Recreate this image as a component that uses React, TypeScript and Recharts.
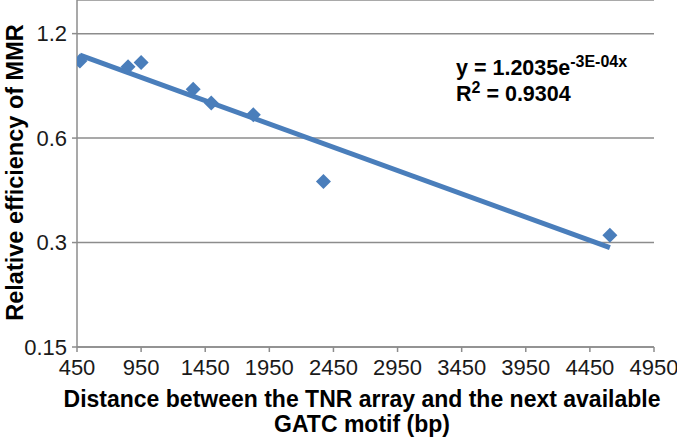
import {
  CartesianGrid,
  Scatter,
  ScatterChart,
  XAxis,
  YAxis,
} from "recharts";

// measured points: distance to next GATC (bp) vs relative MMR efficiency
const distances = [473, 848, 950, 1356, 1497, 1825, 2372, 4606];
const efficiencies = [1.0, 0.963, 0.99, 0.83, 0.757, 0.7, 0.45, 0.315];

// exponential trendline end points
const trendX = [473, 4606];
const trendY = [1.04, 0.29];

const xTicks = [450, 950, 1450, 1950, 2450, 2950, 3450, 3950, 4450, 4950];
const yTicks = [0.15, 0.3, 0.6, 1.2];

const points = distances.map((d, i) => ({ x: d, y: efficiencies[i] }));
const trend = trendX.map((d, i) => ({ x: d, y: trendY[i] }));

const BLUE = "#4a7ebb";
const GRID = "#8c8c8c";
const FONT = "'Liberation Sans', Arial, sans-serif";

function Diamond({ cx, cy }: { cx?: number; cy?: number }) {
  if (cx == null || cy == null) return <g />;
  const r = 7.5;
  return (
    <path
      d={`M${cx},${cy - r} L${cx + r},${cy} L${cx},${cy + r} L${cx - r},${cy} Z`}
      fill={BLUE}
    />
  );
}

export default function App() {
  return (
    <div
      style={{
        position: "relative",
        width: 677,
        height: 444,
        background: "#fff",
        fontFamily: FONT,
      }}
    >
      <style>{"html,body{margin:0;padding:0;overflow:hidden}"}</style>
      <ScatterChart
        width={677}
        height={444}
        margin={{ top: 0, right: 23, bottom: 67, left: 0 }}
        style={{ overflow: "visible" }}
      >
        <CartesianGrid stroke={GRID} strokeWidth={1.5} vertical={false} />
        <XAxis
          type="number"
          dataKey="x"
          domain={[450, 4950]}
          ticks={xTicks}
          allowDataOverflow
          height={30}
          tick={{ fill: "#1a1a1a", fontSize: 22, fontFamily: FONT, dy: 5 }}
          tickSize={5}
          tickLine={{ stroke: GRID, strokeWidth: 1.5 }}
          axisLine={{ stroke: GRID, strokeWidth: 1.5 }}
          interval={0}
        />
        <YAxis
          type="number"
          dataKey="y"
          scale="log"
          domain={[0.15, 1.5]}
          ticks={yTicks}
          allowDataOverflow
          width={77}
          tick={{ fill: "#1a1a1a", fontSize: 22, fontFamily: FONT, dx: -3 }}
          tickSize={5}
          tickLine={{ stroke: GRID, strokeWidth: 1.5 }}
          axisLine={{ stroke: GRID, strokeWidth: 1.5 }}
          interval={0}
        />
        <Scatter
          data={trend}
          line={{ stroke: BLUE, strokeWidth: 5 }}
          shape={() => <g />}
          isAnimationActive={false}
        />
        <Scatter
          data={points}
          shape={<Diamond />}
          isAnimationActive={false}
        />
      </ScatterChart>

      <div
        style={{
          position: "absolute",
          left: 456,
          top: 55,
          fontSize: 21.5,
          fontWeight: "bold",
          lineHeight: "26px",
          color: "#000",
        }}
      >
        <div>
          y = 1.2035e
          <sup style={{ fontSize: 16, lineHeight: 0 }}>-3E-04x</sup>
        </div>
        <div>
          R<sup style={{ fontSize: 16, lineHeight: 0 }}>2</sup> = 0.9304
        </div>
      </div>

      <div
        style={{
          position: "absolute",
          left: 0,
          top: 0,
          width: 30,
          height: 344,
          display: "flex",
          alignItems: "center",
          justifyContent: "center",
        }}
      >
        <div
          style={{
            transform: "rotate(-90deg)",
            whiteSpace: "nowrap",
            fontSize: 23.5,
            fontWeight: "bold",
          }}
        >
          Relative efficiency of MMR
        </div>
      </div>

      <div
        style={{
          position: "absolute",
          left: 12,
          top: 387,
          width: 700,
          textAlign: "center",
          fontSize: 23,
          fontWeight: "bold",
          lineHeight: "25px",
          whiteSpace: "nowrap",
        }}
      >
        Distance between the TNR array and the next available
        <br />
        GATC motif (bp)
      </div>
    </div>
  );
}
